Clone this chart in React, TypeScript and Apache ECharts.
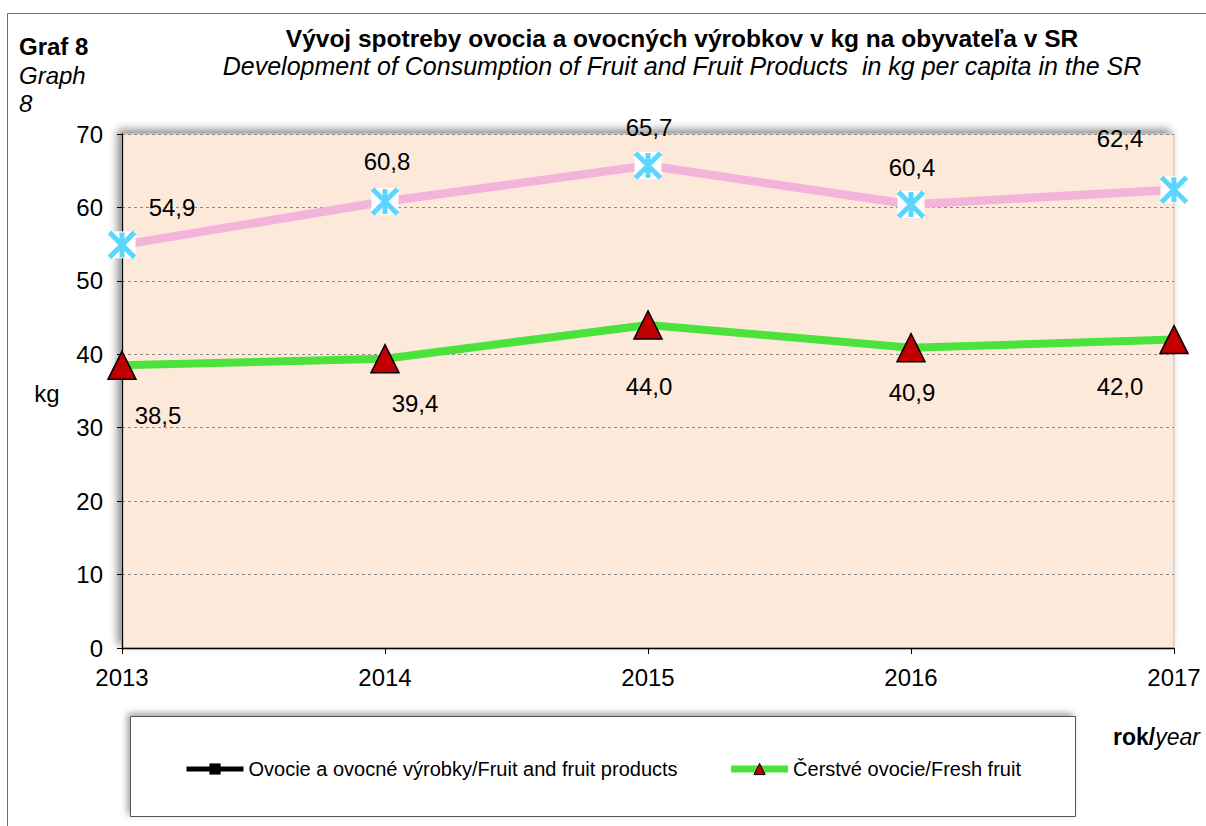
import React, { useEffect, useRef } from "react";
import * as echarts from "echarts";

const years = ["2013", "2014", "2015", "2016", "2017"];
const fruitProducts = [54.9, 60.8, 65.7, 60.4, 62.4];
const freshFruit = [38.5, 39.4, 44.0, 40.9, 42.0];
const yTicks = { min: 0, max: 70, interval: 10 };

const nameProducts = "Ovocie a ovocné výrobky/Fruit and fruit products";
const nameFresh = "Čerstvé ovocie/Fresh fruit";

const productsLabelOffsets = [[50, -37], [2, -40], [1, -38], [1, -37], [-54, -51]];
const freshLabelOffsets = [[36, 50], [30, 45], [1, 62], [1, 45], [-54, 47]];

const FONT = "'Liberation Sans', Arial, sans-serif";
const fmt = (v: number) => v.toFixed(1).replace(".", ",");

export default function App() {
  const ref = useRef<HTMLDivElement>(null);
  useEffect(() => {
    if (!ref.current) return;
    const chart = echarts.init(ref.current, undefined, { renderer: "svg" });
    const labelStyle = {
      fontFamily: FONT,
      fontSize: 24,
      color: "#000",
      opacity: 1,
      textBorderWidth: 0,
      textBorderColor: "transparent",
    };
    const option: any = {
      animation: false,
      textStyle: { fontFamily: FONT },
      grid: {
        left: 122,
        top: 134,
        right: 32,
        bottom: 178,
        show: true,
        backgroundColor: "#FDE9D9",
        borderColor: "#BFBFBF",
        borderWidth: 1,
        shadowColor: "rgba(0,0,0,0.45)",
        shadowBlur: 8,
        shadowOffsetX: -4,
        shadowOffsetY: -4,
      },
      xAxis: {
        type: "category",
        data: years,
        boundaryGap: false,
        axisLine: { lineStyle: { color: "#000", width: 1.3 } },
        axisTick: { show: true, length: 6, lineStyle: { color: "#000" } },
        axisLabel: { fontFamily: FONT, fontSize: 24, color: "#000", margin: 17 },
        splitLine: { show: false },
      },
      yAxis: {
        type: "value",
        min: yTicks.min,
        max: yTicks.max,
        interval: yTicks.interval,
        axisLine: { show: true, lineStyle: { color: "#000", width: 1.3 } },
        axisTick: { show: true, length: 5, lineStyle: { color: "#000" } },
        axisLabel: { fontFamily: FONT, fontSize: 24, color: "#000", margin: 19 },
        splitLine: { show: true, lineStyle: { color: "#8c8c8c", type: [3, 3], width: 1 } },
      },
      legend: {
        left: 184,
        top: 759,
        padding: 0,
        itemWidth: 57,
        itemHeight: 14,
        itemGap: 50,
        textStyle: { fontFamily: FONT, fontSize: 20, color: "#000" },
        data: [
          {
            name: nameProducts,
            itemStyle: { color: "#000", borderColor: "#000", borderWidth: 0 },
            lineStyle: { color: "#000", width: 5 },
          },
          {
            name: nameFresh,
            itemStyle: { color: "#C00000", borderColor: "#000", borderWidth: 1 },
            lineStyle: { color: "#4CE23C", width: 7 },
          },
        ],
      },
      graphic: [
        {
          type: "rect",
          shape: { x: 7.5, y: 13.5, width: 1400, height: 1000 },
          style: { fill: "none", stroke: "#6e6e6e", lineWidth: 1 },
          silent: true,
        },
        {
          type: "rect",
          shape: { x: 130.5, y: 716.5, width: 945, height: 100 },
          style: {
            fill: "#fff",
            stroke: "#555",
            lineWidth: 1,
            shadowColor: "rgba(0,0,0,0.35)",
            shadowBlur: 6,
            shadowOffsetX: -3,
            shadowOffsetY: -3,
          },
          silent: true,
        },
        {
          type: "text",
          x: 682,
          y: 38,
          style: {
            text: "Vývoj spotreby ovocia a ovocných výrobkov v kg na obyvateľa v SR",
            font: `bold 24.5px ${FONT}`,
            fill: "#000",
            textAlign: "center",
            textVerticalAlign: "middle",
          },
        },
        {
          type: "text",
          x: 682,
          y: 66,
          style: {
            text: "Development of Consumption of Fruit and Fruit Products  in kg per capita in the SR",
            font: `italic 25px ${FONT}`,
            fill: "#000",
            textAlign: "center",
            textVerticalAlign: "middle",
          },
        },
        {
          type: "text",
          x: 19,
          y: 46,
          style: { text: "Graf 8", font: `bold 24px ${FONT}`, fill: "#000", textVerticalAlign: "middle" },
        },
        {
          type: "text",
          x: 19,
          y: 75,
          style: { text: "Graph", font: `italic 24px ${FONT}`, fill: "#000", textVerticalAlign: "middle" },
        },
        {
          type: "text",
          x: 19,
          y: 103,
          style: { text: "8", font: `italic 24px ${FONT}`, fill: "#000", textVerticalAlign: "middle" },
        },
        {
          type: "text",
          x: 47,
          y: 393,
          style: {
            text: "kg",
            font: `24px ${FONT}`,
            fill: "#000",
            textAlign: "center",
            textVerticalAlign: "middle",
          },
        },
        {
          type: "text",
          x: 1113,
          y: 737,
          style: {
            text: "{b|rok/}{i|year}",
            rich: {
              b: { fontFamily: FONT, fontSize: 23, fontWeight: "bold", fill: "#000" },
              i: { fontFamily: FONT, fontSize: 23, fontStyle: "italic", fill: "#000" },
            },
            textVerticalAlign: "middle",
          },
        },
      ],
      series: [
        {
          name: nameProducts,
          type: "line",
          data: fruitProducts,
          lineStyle: { color: "#F3B4D9", width: 8.5 },
          itemStyle: { color: "#fff" },
          symbol: "rect",
          symbolSize: 27,
          z: 2,
        },
        {
          name: nameFresh,
          type: "line",
          data: freshFruit.map((v, i) => ({
            value: v,
            label: { offset: freshLabelOffsets[i] },
          })),
          lineStyle: { color: "#4CE23C", width: 8 },
          itemStyle: { color: "#C00000", borderColor: "#000", borderWidth: 1.5 },
          symbol: "triangle",
          symbolSize: 28,
          label: { show: true, position: "inside", formatter: (p: any) => fmt(p.value), ...labelStyle },
          z: 3,
        },
        {
          type: "scatter",
          data: fruitProducts.map((v, i) => ({
            value: v,
            label: { offset: productsLabelOffsets[i] },
          })),
          symbol: "path://M0,0L20,20M20,0L0,20M10,0L10,20",
          symbolSize: 25,
          itemStyle: { color: "none", borderColor: "#33CCFF", borderWidth: 5 },
          label: { show: true, position: "inside", formatter: (p: any) => fmt(p.value), ...labelStyle },
          z: 4,
        },
      ],
    };
    chart.setOption(option);
    return () => chart.dispose();
  }, []);
  return (
    <div
      ref={ref}
      style={{ position: "fixed", left: 0, top: 0, width: 1206, height: 826, background: "#fff" }}
    />
  );
}
